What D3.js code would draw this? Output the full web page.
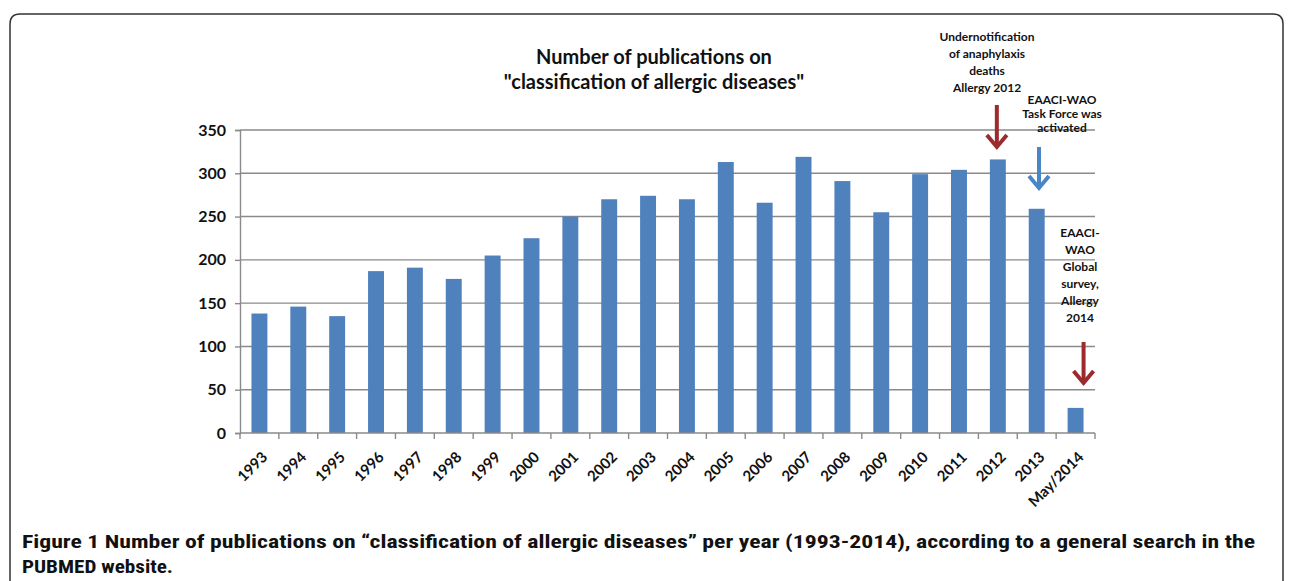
<!DOCTYPE html>
<html>
<head>
<meta charset="utf-8">
<script src="https://cdn.jsdelivr.net/npm/d3@7"></script>
<style>
  html, body { margin: 0; padding: 0; background: #fff; }
  svg { display: block; }
  text { font-family: Lato, "Open Sans", sans-serif; fill: #111; }
</style>
</head>
<body>
<svg id="chart" width="1290" height="581"></svg>
<script>
const categories = ["1993","1994","1995","1996","1997","1998","1999","2000","2001","2002","2003","2004","2005","2006","2007","2008","2009","2010","2011","2012","2013","May/2014"];
const publications = [138,146,135,187,191,178,205,225,250,270,274,270,313,266,319,291,255,299,304,316,259,29];
const yTicks = [0,50,100,150,200,250,300,350];
const titleLines = ["Number of publications on", "\"classification of allergic diseases\""];
const note2012 = ["Undernotification", "of anaphylaxis", "deaths", "Allergy 2012"];
const noteTaskForce = ["EAACI-WAO", "Task Force was", "activated"];
const note2014 = ["EAACI-", "WAO", "Global", "survey,", "Allergy", "2014"];
const captionBold = "Figure 1";
const captionRest = " Number of publications on \u201cclassification of allergic diseases\u201d per year (1993-2014), according to a general search in the";
const captionLine2 = "PUBMED website.";

const svg = d3.select("#chart");

// outer frame
svg.append("path")
  .attr("d", "M10,600 L10,24 Q10,14 20,14 L1273,14 Q1283,14 1283,24 L1283,600")
  .attr("fill", "none").attr("stroke", "#333").attr("stroke-width", 1.5);

const x = d3.scaleBand().domain(categories).range([240, 1095]).paddingInner(0.59).paddingOuter(0.295);
const y = d3.scaleLinear().domain([0, 350]).range([433, 130]);

// gridlines
svg.append("g").selectAll("line").data(yTicks.filter(d => d > 0)).join("line")
  .attr("x1", 240).attr("x2", 1095)
  .attr("y1", d => y(d)).attr("y2", d => y(d))
  .attr("stroke", "#8a8a8a").attr("stroke-width", 1.4);

// bars
svg.append("g").selectAll("rect").data(categories).join("rect")
  .attr("x", (d) => x(d))
  .attr("width", x.bandwidth())
  .attr("y", (d, i) => y(publications[i]))
  .attr("height", (d, i) => y(0) - y(publications[i]))
  .attr("fill", "#4f81bd");

// y axis
const yAxis = svg.append("g").attr("transform", "translate(240,0)")
  .call(d3.axisLeft(y).tickValues(yTicks).tickSize(5).tickPadding(9).tickFormat(d3.format("d")));
yAxis.select(".domain").attr("stroke", "#8a8a8a").attr("stroke-width", 1.4);
yAxis.selectAll(".tick line").attr("stroke", "#8a8a8a").attr("stroke-width", 1.4);
yAxis.selectAll(".tick text").style("font-family", "Lato, sans-serif").style("font-size", "16px").style("font-weight", 700).attr("fill", "#1a1a1a");

// x axis line + tick marks at category boundaries
const step = x.step();
const x0 = x.range()[0];
const xAxisG = svg.append("g");
xAxisG.append("line").attr("x1", 240).attr("x2", 1095).attr("y1", y(0)).attr("y2", y(0))
  .attr("stroke", "#8a8a8a").attr("stroke-width", 1.4);
xAxisG.selectAll("line.tk").data(d3.range(categories.length + 1)).join("line").attr("class", "tk")
  .attr("x1", i => x0 + i * step).attr("x2", i => x0 + i * step)
  .attr("y1", y(0)).attr("y2", y(0) + 6)
  .attr("stroke", "#8a8a8a").attr("stroke-width", 1.4);

// x labels
const xAxis = svg.append("g").attr("transform", `translate(0,${y(0)})`)
  .call(d3.axisBottom(x).tickSize(0).tickPadding(0));
xAxis.select(".domain").remove();
xAxis.selectAll(".tick text")
  .attr("text-anchor", "end")
  .attr("dy", 0)
  .attr("transform", "translate(9,25) rotate(-45)")
  .style("font-family", "Lato, sans-serif").style("font-size", "15px").style("font-weight", 700).attr("fill", "#1a1a1a");

// title
svg.append("text").attr("text-anchor", "middle")
  .style("font-size", "20px").style("font-weight", 700)
  .selectAll("tspan").data(titleLines).join("tspan")
  .attr("x", 654).attr("y", (d, i) => 64 + i * 25).text(d => d);

function note(lines, cx, y0, lh) {
  svg.append("text").attr("text-anchor", "middle")
    .style("font-size", "12px").style("font-weight", 700)
    .selectAll("tspan").data(lines).join("tspan")
    .attr("x", cx).attr("y", (d, i) => y0 + i * lh).text(d => d);
}
note(note2012, 987, 41, 17);
note(noteTaskForce, 1062, 104, 14);
note(note2014, 1080, 237, 17);

function arrow(cx, y1, y2, color) {
  const g = svg.append("g").attr("stroke", color).attr("fill", "none").attr("stroke-width", 4).attr("stroke-linecap", "butt");
  g.append("line").attr("x1", cx).attr("x2", cx).attr("y1", y1).attr("y2", y2 - 2);
  g.append("polyline").attr("points", `${cx - 10},${y2 - 12} ${cx},${y2} ${cx + 10},${y2 - 12}`).attr("stroke-linejoin", "miter");
}
arrow(x("2012") + x.bandwidth() / 2 - 1, 105, 147, "#9b2b2d");
arrow(1039, 147, 188, "#4a86c5");
arrow(x("May/2014") + x.bandwidth() / 2 + 8, 342, 383, "#9b2b2d");

// caption
const cap = svg.append("text").attr("x", 22).attr("y", 548)
  .style("font-family", "'Liberation Sans Narrow', 'Roboto Condensed', 'Open Sans', sans-serif")
  .style("font-size", "18px").style("font-weight", 700).attr("fill", "#231f20");
cap.append("tspan").text(captionBold);
cap.append("tspan").text(captionRest);
cap.attr("textLength", 1233).attr("lengthAdjust", "spacingAndGlyphs");
svg.append("text").attr("x", 22).attr("y", 573)
  .style("font-family", "'Liberation Sans Narrow', 'Roboto Condensed', 'Open Sans', sans-serif")
  .style("font-size", "18px").style("font-weight", 700).attr("fill", "#231f20")
  .attr("textLength", 151).attr("lengthAdjust", "spacingAndGlyphs")
  .text(captionLine2);
</script>
</body>
</html>
